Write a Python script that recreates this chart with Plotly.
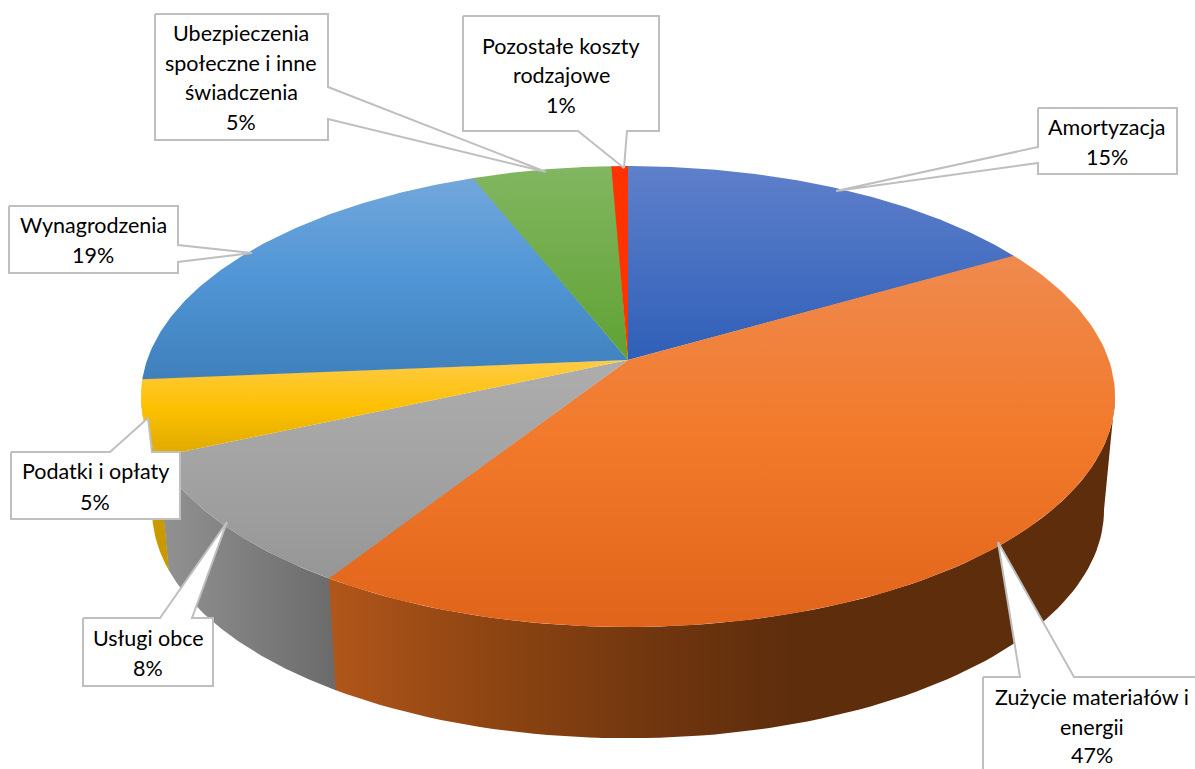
import numpy as np
import plotly.graph_objects as go

# --- data ---
categories = ["Amortyzacja", "Zużycie materiałów i energii", "Usługi obce", "Podatki i opłaty",
              "Wynagrodzenia", "Ubezpieczenia społeczne i inne świadczenia", "Pozostałe koszty rodzajowe"]
labels_pct = [15, 47, 8, 5, 19, 5, 1]
# slice shares as drawn in the picture (the perspective of the source distorts them)
drawn_share = [16.7, 42.4, 9.3, 5.3, 20.3, 5.4, 0.6]

# --- style ---
top_colors = [
    ["#5F80CB", "#2F5FB8"],
    ["#EF8A4E", "#F2792A", "#E0641A"],
    ["#ADADAD", "#A3A3A3", "#969696"],
    ["#FFCB45", "#FDC000", "#DDA800"],
    ["#72A7DC", "#5095D5", "#3F80BC"],
    ["#82B661", "#5FA232"],
    ["#FF3300", "#FF3300"],
]
W, H = 1195, 769
CX = 628
K = 0.1584
TOP = dict(a=480.9, b=224.7, y0=360)
BOT = dict(a=470.0, b=222.4, y0=474)
OVERLAP = 0.15  # degrees, hides anti-aliasing seams between neighbouring faces


def proj(theta_deg, plane):
    t = np.radians(theta_deg)
    u, v = np.sin(t), np.cos(t)
    d = 1 + K * v
    return CX + plane["a"] * u / d, plane["y0"] - plane["b"] * v / d


def cscale(cols):
    n = len(cols) - 1
    return [[i / n, c] for i, c in enumerate(cols)]


fig = go.Figure()


def poly(x, y, color=None, grad=None, line=None):
    kw = dict(x=list(x), y=list(y), mode="lines", fill="toself", hoverinfo="skip", showlegend=False,
              line=dict(width=line[1] if line else 0, color=line[0] if line else "rgba(0,0,0,0)"))
    if color:
        kw["fillcolor"] = color
    if grad:
        kw["fillgradient"] = grad
    fig.add_trace(go.Scatter(**kw))


edges = np.concatenate([[0], np.cumsum(drawn_share)]) / sum(drawn_share) * 360

# visible side walls
side_ranges = [(99.0, edges[2]), (edges[2] - OVERLAP, edges[3]), (edges[3] - OVERLAP, 261.0)]
side_grad = [
    dict(type="horizontal", start=333, stop=1104,
         colorscale=[[0, "#B0561A"], [0.2, "#8F4512"], [0.42, "#70360F"], [0.6, "#5D2D0C"], [1, "#5D2D0C"]]),
    dict(type="horizontal", start=160, stop=333, colorscale=[[0, "#929292"], [1, "#6B6B6B"]]),
    dict(type="horizontal", start=150, stop=172, colorscale=[[0, "#C89A00"], [1, "#C89A00"]]),
]
for (a, b), g in zip(side_ranges, side_grad):
    th = np.linspace(a, b, 80)
    xt, yt = proj(th, TOP)
    xb, yb = proj(th, BOT)
    poly(np.r_[xt, xb[::-1]], np.r_[yt, yb[::-1]], grad=g)

# top faces
for i in range(len(categories)):
    th = np.linspace(edges[i] - (OVERLAP if i else 0), edges[i + 1], 120)
    x, y = proj(th, TOP)
    x = np.r_[CX, x, CX]
    y = np.r_[TOP["y0"], y, TOP["y0"]]
    poly(x, y, grad=dict(type="vertical", start=float(y.min()), stop=float(y.max()),
                         colorscale=cscale(top_colors[i])))

# callouts (box outline with pointer)
BOX = "#BFBFBF"
callouts = [
    [(1038, 108), (1177, 108), (1177, 174), (1038, 174), (1038, 163), (836, 191), (1038, 147)],
    [(9, 206), (178, 206), (178, 245), (252, 253), (178, 262), (178, 273), (9, 273)],
    [(11, 452), (110, 452), (148, 418), (152, 452), (180, 452), (180, 519), (11, 519)],
    [(83, 618), (160, 618), (227, 522), (192, 618), (213, 618), (213, 686), (83, 686)],
    [(983, 677), (1020, 677), (998, 542), (1074, 677), (1210, 677), (1210, 790), (983, 790)],
    [(463, 16), (659, 16), (659, 131), (627, 131), (624, 168), (578, 131), (463, 131)],
    [(155, 14), (328, 14), (328, 87), (546, 172), (328, 119), (328, 140), (155, 140)],
]
for c in callouts:
    xs, ys = zip(*(c + [c[0]]))
    poly(xs, ys, color="white", line=(BOX, 2))

text_lines = [
    (1107, [(127, "Amortyzacja"), (157, "15%")]),
    (93, [(225, "Wynagrodzenia"), (255, "19%")]),
    (95, [(471, "Podatki i opłaty"), (502, "5%")]),
    (148, [(638, "Usługi obce"), (668, "8%")]),
    (1092, [(697, "Zużycie materiałów i"), (727, "energii"), (755, "47%")]),
    (561, [(46, "Pozostałe koszty"), (75, "rodzajowe"), (105, "1%")]),
    (241, [(33, "Ubezpieczenia"), (63, "społeczne i inne"), (92, "świadczenia"), (122, "5%")]),
]
annotations = []
for xc, rows in text_lines:
    for yc, s in rows:
        annotations.append(dict(x=xc, y=yc, xref="x", yref="y", text=s, showarrow=False,
                                xanchor="center", yanchor="middle",
                                font=dict(family="Lato", size=21.5, color="#000000")))

fig.update_layout(
    width=W, height=H, autosize=False,
    margin=dict(l=0, r=0, t=0, b=0),
    paper_bgcolor="white", plot_bgcolor="white",
    xaxis=dict(range=[0, W], visible=False, fixedrange=True),
    yaxis=dict(range=[H, 0], visible=False, fixedrange=True),
    showlegend=False,
    annotations=annotations,
)
fig.write_html("out.html", config={"displayModeBar": False},
               post_script="document.body.style.margin='0';document.body.style.overflow='hidden';")
